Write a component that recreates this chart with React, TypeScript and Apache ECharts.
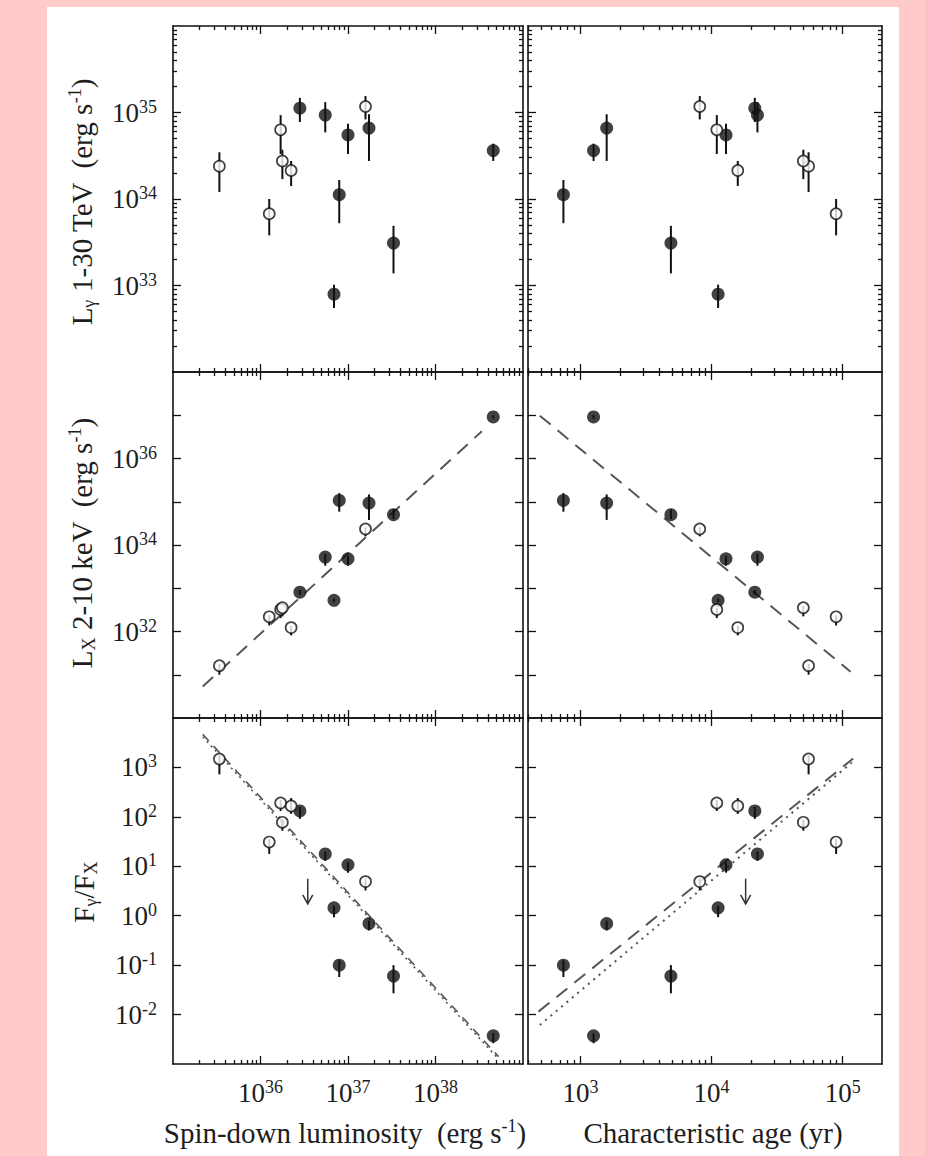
import React, { useEffect, useRef } from "react";
import * as echarts from "echarts";

const FONT = '"Liberation Serif", "Times New Roman", Times, serif';
const INK = "#111111";
const TXT = "#1d1d1d";
const FIT = "#555555";

// ---- data (log10 values), 14 pulsars ----
const pulsarFilled = [0, 0, 0, 0, 0, 0, 1, 1, 1, 1, 1, 1, 1, 1];
const logEdot = [35.53, 36.1, 36.23, 36.25, 36.35, 37.2, 36.45, 36.74, 37.0, 37.24, 36.9, 36.84, 37.52, 38.66];
const logAge = [4.74, 4.95, 4.04, 4.7, 4.2, 3.91, 4.33, 4.35, 4.11, 3.2, 2.87, 4.05, 3.69, 3.1];
const logLgamma = [34.38, 33.83, 34.8, 34.44, 34.33, 35.07, 35.05, 34.97, 34.74, 34.82, 34.05, 32.9, 33.49, 34.56];
const logLgammaHi = [34.54, 34.0, 34.97, 34.57, 34.44, 35.19, 35.17, 35.12, 34.87, 34.98, 34.22, 33.01, 33.69, 34.64];
const logLgammaLo = [34.08, 33.58, 34.52, 34.23, 34.15, 34.92, 34.89, 34.77, 34.52, 34.44, 33.72, 32.74, 33.14, 34.44];
const logLx = [31.21, 32.34, 32.51, 32.55, 32.09, 34.37, 32.91, 33.72, 33.68, 34.97, 35.03, 32.72, 34.7, 36.96];
const logLxHi = [31.25, 32.38, 32.55, 32.59, 32.13, 34.41, 32.96, 33.8, 33.75, 35.17, 35.2, 32.76, 34.83, 37.0];
const logLxLo = [31.0, 32.14, 32.31, 32.35, 31.91, 34.2, 32.85, 33.52, 33.52, 34.58, 34.77, 32.68, 34.6, 36.92];
const logRatio = [3.17, 1.49, 2.28, 1.89, 2.22, 0.69, 2.12, 1.25, 1.03, -0.16, -1.0, 0.16, -1.22, -2.43];
const logRatioHi = [3.25, 1.55, 2.34, 1.95, 2.38, 0.75, 2.2, 1.3, 1.08, -0.1, -0.9, 0.2, -1.0, -2.38];
const logRatioLo = [2.86, 1.25, 2.12, 1.72, 2.06, 0.51, 1.96, 1.11, 0.87, -0.3, -1.24, -0.03, -1.57, -2.58];

// upper limit (arrow) on F_gamma/F_X
const ulEdot = [36.54];
const ulAge = [4.26];
const ulTop = [0.75];
const ulTip = [0.24];

// fitted lines (endpoints in log10 units)
const fitLxEdotX = [35.34, 38.53];
const fitLxEdotY = [30.73, 36.63];
const fitLxAgeX = [2.69, 5.06];
const fitLxAgeY = [36.99, 31.07];
const fitRatioEdotX = [35.34, 38.72];
const fitRatioEdotDashY = [3.67, -2.85];
const fitRatioEdotDotY = [3.62, -2.9];
const fitRatioAgeDashX = [2.68, 5.08];
const fitRatioAgeDashY = [-1.94, 3.18];
const fitRatioAgeDotX = [2.69, 5.07];
const fitRatioAgeDotY = [-2.21, 3.1];

// axes
const edotRange = [35, 39];
const ageRange = [2.6, 5.3];
const lgRange = [32, 36];
const lxRange = [30, 38];
const ratioRange = [-3, 4];
const edotTicks = [36, 37, 38];
const ageTicks = [3, 4, 5];
const lgTicks = [33, 34, 35];
const lxTicks = [31, 32, 33, 34, 35, 36, 37];
const lxLabels = [32, 34, 36];
const ratioTicks = [-2, -1, 0, 1, 2, 3];

const minorLogTicks = (lo: number, hi: number) => {
  const out: number[] = [];
  for (let d = Math.floor(lo); d < hi; d++) {
    for (let k = 2; k <= 9; k++) {
      const v = d + Math.log10(k);
      if (v > lo + 1e-6 && v < hi - 1e-6) out.push(v);
    }
  }
  return out;
};

const COLS = [
  { left: 173, width: 350, range: edotRange, ticks: edotTicks, minor: minorLogTicks(35, 39) },
  { left: 528, width: 354, range: ageRange, ticks: ageTicks, minor: minorLogTicks(2.6, 5.3) },
];
const ROWS = [
  { top: 26, height: 346, range: lgRange, ticks: lgTicks, labels: lgTicks, minor: minorLogTicks(32, 36) },
  { top: 372, height: 346, range: lxRange, ticks: lxTicks, labels: lxLabels, minor: null as number[] | null },
  { top: 718, height: 346, range: ratioRange, ticks: ratioTicks, labels: ratioTicks, minor: null as number[] | null },
];

const tickRich = {
  b: { fontFamily: FONT, fontSize: 27, color: TXT, lineHeight: 30 },
  s: { fontFamily: FONT, fontSize: 18, color: TXT, lineHeight: 14, verticalAlign: "top" },
};

function buildOption() {
  const grids: any[] = [];
  const xAxes: any[] = [];
  const yAxes: any[] = [];
  const primX: number[] = [];
  const primY: number[] = [];

  ROWS.forEach((row, r) => {
    COLS.forEach((col, c) => {
      const g = grids.length;
      grids.push({ left: col.left, top: row.top, width: col.width, height: row.height, containLabel: false });

      const xBase = (position: string, major: boolean, labels: number[] | null) => ({
        type: "value",
        gridIndex: g,
        position,
        min: col.range[0],
        max: col.range[1],
        axisLine: { show: major, onZero: false, lineStyle: { color: INK, width: 1.6 } },
        axisTick: {
          show: true,
          inside: true,
          length: major ? 8 : 4,
          customValues: major ? col.ticks : col.minor,
          lineStyle: { color: INK, width: 1.3 },
        },
        axisLabel: labels
          ? {
              show: true,
              customValues: labels,
              margin: 14,
              formatter: (v: number) => `{b|10}{s|${Math.round(v)}}`,
              rich: tickRich,
            }
          : { show: false },
        splitLine: { show: false },
      });
      primX[g] = xAxes.length;
      xAxes.push(xBase("bottom", true, r === 2 ? col.ticks : null));
      xAxes.push(xBase("top", true, null));
      xAxes.push(xBase("bottom", false, null));
      xAxes.push(xBase("top", false, null));

      const yBase = (position: string, major: boolean, labels: number[] | null) => ({
        type: "value",
        gridIndex: g,
        position,
        min: row.range[0],
        max: row.range[1],
        axisLine: { show: major, onZero: false, lineStyle: { color: INK, width: 1.6 } },
        axisTick: {
          show: true,
          inside: true,
          length: major ? 8 : 4,
          customValues: major ? row.ticks : row.minor,
          lineStyle: { color: INK, width: 1.3 },
        },
        axisLabel: labels
          ? {
              show: true,
              customValues: labels,
              margin: 16,
              formatter: (v: number) => `{b|10}{s|${Math.round(v)}}`,
              rich: tickRich,
            }
          : { show: false },
        splitLine: { show: false },
      });
      primY[g] = yAxes.length;
      yAxes.push(yBase("left", true, c === 0 ? row.labels : null));
      yAxes.push(yBase("right", true, null));
      if (row.minor) {
        yAxes.push(yBase("left", false, null));
        yAxes.push(yBase("right", false, null));
      }
    });
  });

  const series: any[] = [];
  const errRender = (params: any, api: any) => {
    const a = api.coord([api.value(0), api.value(1)]);
    const b = api.coord([api.value(0), api.value(2)]);
    return {
      type: "line",
      shape: { x1: a[0], y1: a[1], x2: b[0], y2: b[1] },
      style: { stroke: INK, lineWidth: 2 },
    };
  };
  const arrowRender = (params: any, api: any) => {
    const a = api.coord([api.value(0), api.value(1)]);
    const b = api.coord([api.value(0), api.value(2)]);
    return {
      type: "group",
      children: [
        { type: "line", shape: { x1: a[0], y1: a[1], x2: b[0], y2: b[1] }, style: { stroke: "#333", lineWidth: 1.5 } },
        {
          type: "polyline",
          shape: { points: [[b[0] - 5, b[1] - 9], [b[0], b[1]], [b[0] + 5, b[1] - 9]] },
          style: { stroke: "#333", lineWidth: 1.5, fill: "none" },
        },
      ],
    };
  };

  const addPanel = (g: number, xs: number[], ys: number[], lo: number[], hi: number[]) => {
    const xi = primX[g];
    const yi = primY[g];
    series.push({
      type: "custom",
      xAxisIndex: xi,
      yAxisIndex: yi,
      z: 3,
      silent: true,
      renderItem: errRender,
      data: xs.map((x, i) => [x, lo[i], hi[i]]),
    });
    series.push({
      type: "scatter",
      xAxisIndex: xi,
      yAxisIndex: yi,
      z: 5,
      symbol: "circle",
      symbolSize: 13,
      itemStyle: { color: INK },
      data: xs.map((x, i) => [x, ys[i]]).filter((_, i) => pulsarFilled[i] === 1),
    });
    series.push({
      type: "scatter",
      xAxisIndex: xi,
      yAxisIndex: yi,
      z: 5,
      symbol: "circle",
      symbolSize: 11,
      itemStyle: { color: "#ffffff", borderColor: INK, borderWidth: 1.7 },
      data: xs.map((x, i) => [x, ys[i]]).filter((_, i) => pulsarFilled[i] === 0),
    });
  };
  const addLine = (g: number, xs: number[], ys: number[], type: any, width = 2) => {
    series.push({
      type: "line",
      xAxisIndex: primX[g],
      yAxisIndex: primY[g],
      z: 2,
      silent: true,
      symbol: "none",
      lineStyle: { color: FIT, width, type },
      data: xs.map((x, i) => [x, ys[i]]),
    });
  };
  const addArrow = (g: number, xs: number[]) => {
    series.push({
      type: "custom",
      xAxisIndex: primX[g],
      yAxisIndex: primY[g],
      z: 4,
      silent: true,
      renderItem: arrowRender,
      data: xs.map((x, i) => [x, ulTop[i], ulTip[i]]),
    });
  };

  addPanel(0, logEdot, logLgamma, logLgammaLo, logLgammaHi);
  addPanel(1, logAge, logLgamma, logLgammaLo, logLgammaHi);
  addLine(2, fitLxEdotX, fitLxEdotY, [14, 9]);
  addPanel(2, logEdot, logLx, logLxLo, logLxHi);
  addLine(3, fitLxAgeX, fitLxAgeY, [14, 9]);
  addPanel(3, logAge, logLx, logLxLo, logLxHi);
  addLine(4, fitRatioEdotX, fitRatioEdotDashY, [9, 7], 1.6);
  addLine(4, fitRatioEdotX, fitRatioEdotDotY, [2, 4], 1.6);
  addPanel(4, logEdot, logRatio, logRatioLo, logRatioHi);
  addArrow(4, ulEdot);
  addLine(5, fitRatioAgeDashX, fitRatioAgeDashY, [14, 9]);
  addLine(5, fitRatioAgeDotX, fitRatioAgeDotY, [2, 5]);
  addPanel(5, logAge, logRatio, logRatioLo, logRatioHi);
  addArrow(5, ulAge);

  const titleRich = {
    n: { fontFamily: FONT, fontSize: 29, color: TXT, lineHeight: 32 },
    sub: { fontFamily: FONT, fontSize: 18, color: TXT, lineHeight: 15, verticalAlign: "bottom" },
    sup: { fontFamily: FONT, fontSize: 18, color: TXT, lineHeight: 16, verticalAlign: "top" },
  };
  const title = (text: string, x: number, y: number, rotate: boolean) => ({
    type: "text",
    x,
    y,
    rotation: rotate ? Math.PI / 2 : 0,
    style: { text, rich: titleRich, align: "center", verticalAlign: "middle", fill: TXT },
  });

  return {
    animation: false,
    backgroundColor: "transparent",
    grid: grids,
    xAxis: xAxes,
    yAxis: yAxes,
    series,
    graphic: [
      title("{n|L}{sub|γ}{n| 1-30 TeV  (erg s}{sup|-1}{n|)}", 82, 202, true),
      title("{n|L}{sub|X}{n| 2-10 keV  (erg s}{sup|-1}{n|)}", 82, 543, true),
      title("{n|F}{sub|γ}{n|/F}{sub|X}", 84, 892, true),
      title("{n|Spin-down luminosity  (erg s}{sup|-1}{n|)}", 345, 1133, false),
      title("{n|Characteristic age (yr)}", 713, 1133, false),
    ],
  };
}

export default function App() {
  const ref = useRef<HTMLDivElement>(null);
  useEffect(() => {
    document.body.style.margin = "0";
    const chart = echarts.init(ref.current!, null, { renderer: "svg" });
    chart.setOption(buildOption() as any);
    return () => chart.dispose();
  }, []);
  return (
    <div style={{ position: "absolute", left: 0, top: 0, width: 925, height: 1156, background: "#ffcaca" }}>
      <div style={{ position: "absolute", left: 47, top: 7, width: 852, height: 1149, background: "#ffffff" }} />
      <div ref={ref} style={{ position: "absolute", left: 0, top: 0, width: 925, height: 1156 }} />
    </div>
  );
}
